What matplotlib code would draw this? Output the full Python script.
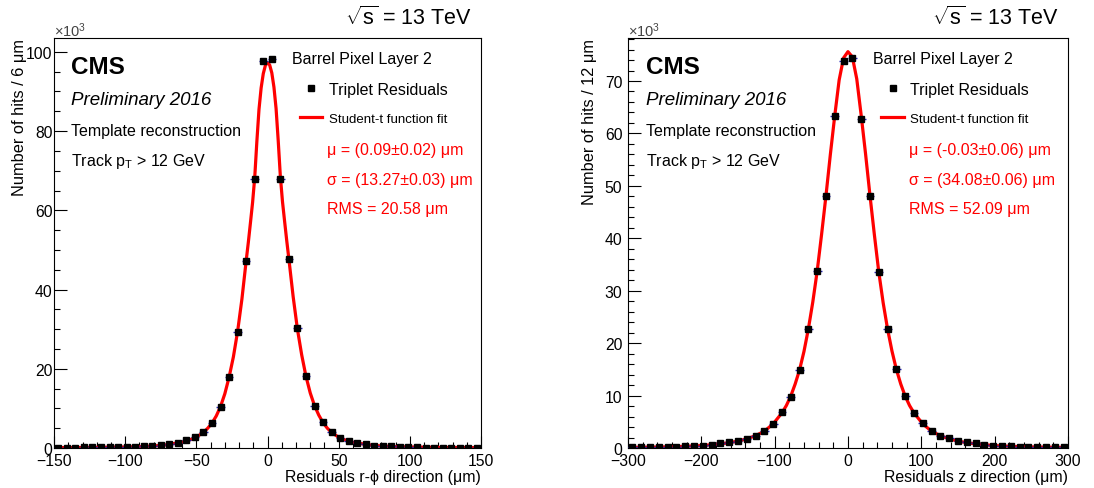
import numpy as np
import matplotlib.pyplot as plt
from matplotlib.ticker import MultipleLocator
from matplotlib.lines import Line2D

# --------------------------------------
# Data (hits in units of 1000)

# r-phi residuals, 6 um bins
rphi_centers = np.arange(-147, 150, 6)
rphi_counts = [0.05, 0.05, 0.05, 0.25, 0.2, 0.2, 0.25, 0.25, 0.2, 0.2,
               0.45, 0.5, 0.7, 1.0, 1.3, 1.95, 2.7, 3.95, 6.2, 10.3,
               17.9, 29.2, 47.1, 67.8, 97.6, 98.1, 67.8, 47.8, 30.2, 18.1,
               10.7, 6.5, 3.95, 2.5, 1.7, 1.2, 0.9, 0.6, 0.45, 0.4,
               0.15, 0.15, 0.15, 0.1, 0.1, 0.1, 0.1, 0.05, 0.05, 0.05]
rphi_fit_x = [-150, -125, -100, -90, -80, -70, -60, -55, -50, -45, -42, -39, -36, -33,
              -30, -27, -24, -21, -18, -15, -13.5, -12, -10.5, -9, -7.5, -6, -4.5, -3,
              -1.5, 0, 1.5, 3, 4.5, 6, 7.5, 9, 10.5, 12, 13.5, 15, 18,
              21, 24, 27, 30, 33, 36, 39, 42, 45, 50, 55, 60, 70, 80, 90, 100, 125, 150]
rphi_fit_y = [0.08, 0.13, 0.25, 0.33, 0.5, 0.85, 1.5, 2.0, 2.75, 3.95, 5.0, 6.3, 8.1, 10.5,
              13.7, 17.9, 23.0, 29.5, 37.6, 47.3, 51.9, 56.9, 62.0, 68.3, 77.4, 85.5, 90.9,
              94.5, 96.6, 97.3, 96.7, 94.7, 91.1, 85.7, 77.6, 68.6, 62.2, 57.2, 52.3, 47.7,
              38.2, 30.0, 23.5, 18.1, 13.9, 10.7, 8.3, 6.4, 5.0, 3.95,
              2.7, 1.95, 1.45, 0.85, 0.5, 0.33, 0.25, 0.13, 0.08]
rphi_stats = ['μ = (0.09±0.02) μm', 'σ = (13.27±0.03) μm', 'RMS = 20.58 μm']

# z residuals, 12 um bins
z_centers = np.arange(-294, 300, 12)
z_counts = [0.1, 0.1, 0.1, 0.1, 0.1, 0.25, 0.3, 0.45, 0.45, 0.65,
            0.9, 1.1, 1.4, 1.65, 2.35, 3.2, 4.5, 6.8, 9.8, 14.8,
            22.7, 33.8, 48.0, 63.3, 73.8, 74.3, 62.8, 48.1, 33.5, 22.7,
            15.0, 10.0, 6.6, 4.7, 3.2, 2.35, 1.85, 1.3, 1.1, 0.9,
            0.65, 0.45, 0.4, 0.3, 0.25, 0.25, 0.1, 0.1, 0.1, 0.1]
z_fit_x = [-300, -275, -250, -225, -200, -180, -165, -150, -138, -126, -114, -102, -90,
           -84, -78, -72, -66, -60, -54, -48, -42, -36, -30, -24, -18, -12, -6, 0, 6, 12,
           18, 24, 30, 36, 42, 48, 54, 60, 66, 72, 78, 84, 90, 102, 114, 126, 138, 150,
           165, 180, 200, 225, 250, 275, 300]
z_fit_y = [0.1, 0.15, 0.2, 0.3, 0.45, 0.7, 0.95, 1.3, 1.75, 2.35, 3.2, 4.6, 6.7,
           8.1, 9.9, 12.2, 14.9, 18.4, 22.7, 27.8, 33.7, 40.7, 48.1, 56.0, 63.4, 70.2,
           74.4, 75.6, 74.6, 70.4, 63.5, 56.1, 48.2, 40.7, 33.6, 27.7, 22.7, 18.5, 15.0,
           12.2, 9.9, 8.1, 6.7, 4.6, 3.2, 2.35, 1.75, 1.3, 0.95, 0.7, 0.45, 0.3, 0.2,
           0.15, 0.1]
z_stats = ['μ = (-0.03±0.06) μm', 'σ = (34.08±0.06) μm', 'RMS = 52.09 μm']

# --------------------------------------

plt.rcParams['font.family'] = ['Liberation Sans', 'DejaVu Sans']
plt.rcParams['mathtext.fontset'] = 'custom'
plt.rcParams['mathtext.rm'] = 'Liberation Sans'
plt.rcParams['mathtext.it'] = 'Liberation Sans:italic'
plt.rcParams['mathtext.bf'] = 'Liberation Sans:bold'


def draw_panel(ax, centers, counts, half_width, fit_x, fit_y, stats,
               xlim, ylim, xticks, yticks, xlabel, ylabel, ylab_x, ypad):
    ax.plot(fit_x, fit_y, color='red', lw=2.3, zorder=2)
    ax.errorbar(centers, counts, xerr=half_width, fmt='none',
                ecolor='#2424b4', elinewidth=1, zorder=3)
    ax.plot(centers, counts, 's', color='black', ms=4, zorder=4)

    ax.set_xlim(*xlim)
    ax.set_ylim(*ylim)
    ax.xaxis.set_major_locator(MultipleLocator(xticks[0]))
    ax.xaxis.set_minor_locator(MultipleLocator(xticks[1]))
    ax.yaxis.set_major_locator(MultipleLocator(yticks[0]))
    ax.yaxis.set_minor_locator(MultipleLocator(yticks[1]))
    ax.tick_params(which='both', direction='in', top=False, right=False, width=0.8)
    ax.tick_params(which='major', length=9, labelsize=11.3)
    ax.tick_params(which='minor', length=4.5)
    ax.tick_params(axis='x', pad=3.5)
    ax.tick_params(axis='y', pad=ypad)
    for sp in ax.spines.values():
        sp.set_linewidth(0.8)

    ax.set_xlabel(xlabel, fontsize=11.4, loc='right')
    ax.xaxis.set_label_coords(1.0, -0.052)
    ax.set_ylabel(ylabel, fontsize=11.8, loc='top')
    ax.yaxis.set_label_coords(ylab_x, 1.0)

    tr = ax.transAxes
    ax.text(0.0, 1.02, '×10$^{3}$', transform=tr, fontsize=10.5, va='center', color='#444444')
    ax.text(0.979, 1.051, r'$\sqrt{\mathrm{s}}$ = 13 TeV', transform=tr,
            ha='right', va='center', fontsize=15.5)

    ax.text(0.04, 0.931, 'CMS', transform=tr, fontsize=17.5, fontweight='bold', va='center')
    ax.text(0.04, 0.849, 'Preliminary 2016', transform=tr, fontsize=13.5,
            style='italic', va='center')
    ax.text(0.04, 0.775, 'Template reconstruction', transform=tr, fontsize=11.5, va='center')
    ax.text(0.04, 0.701, 'Track p$_\\mathrm{T}$ > 12 GeV', transform=tr,
            fontsize=11.5, va='center')

    ax.text(0.557, 0.949, 'Barrel Pixel Layer 2', transform=tr, fontsize=11.5, va='center')
    handles = [Line2D([], [], marker='s', color='black', ls='none', ms=4),
               Line2D([], [], color='red', lw=2.3)]
    leg = ax.legend(handles, ['Triplet Residuals', 'Student-t function fit'],
                    loc='upper left', bbox_to_anchor=(0.576, 0.893), frameon=False,
                    fontsize=11.5, borderpad=0, borderaxespad=0, handlelength=1.4,
                    handletextpad=0.4, labelspacing=0.9)
    leg.get_texts()[1].set_fontsize(9.5)

    for i, s in enumerate(stats):
        ax.text(0.639, 0.729 - i * 0.073, s, transform=tr, color='red',
                fontsize=11.5, va='center')


fig = plt.figure(figsize=(10.94, 4.89), dpi=100)
ax1 = fig.add_axes([0.0494, 0.0818, 0.3903, 0.8384])
ax2 = fig.add_axes([0.574, 0.0818, 0.4022, 0.8384])

draw_panel(ax1, rphi_centers, rphi_counts, 3, rphi_fit_x, rphi_fit_y, rphi_stats,
           (-150, 150), (0, 103.5), (50, 10), (20, 5),
           'Residuals r-ϕ direction (μm)', 'Number of hits / 6 μm', -0.063, 1)
draw_panel(ax2, z_centers, z_counts, 6, z_fit_x, z_fit_y, z_stats,
           (-300, 300), (0, 78.2), (100, 20), (10, 2),
           'Residuals z direction (μm)', 'Number of hits / 12 μm', -0.070, 4)

plt.savefig('out.png', dpi=100)
